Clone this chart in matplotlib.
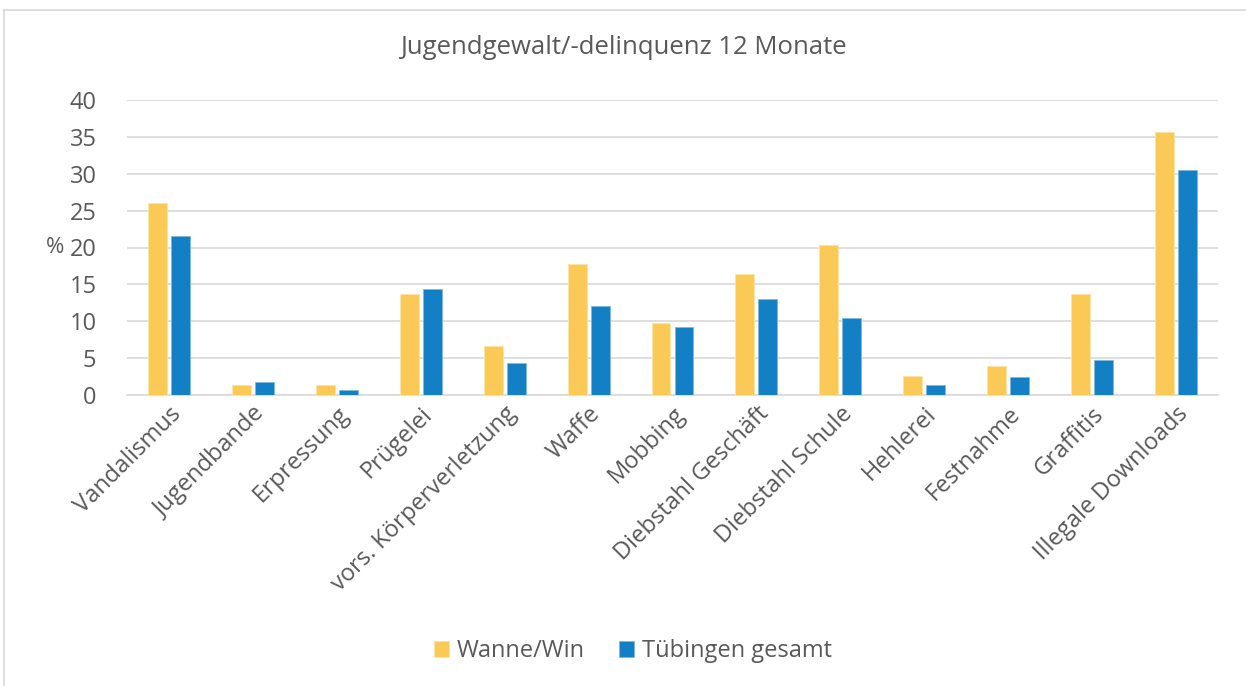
import matplotlib
matplotlib.use("Agg")
import matplotlib.pyplot as plt
import numpy as np
from matplotlib.lines import Line2D

categories = ["Vandalismus", "Jugendbande", "Erpressung", "Prügelei",
              "vors. Körperverletzung", "Waffe", "Mobbing", "Diebstahl Geschäft",
              "Diebstahl Schule", "Hehlerei", "Festnahme", "Graffitis",
              "Illegale Downloads"]
wanne = [26.0, 1.3, 1.3, 13.7, 6.7, 17.8, 9.7, 16.4, 20.4, 2.6, 4.0, 13.7, 35.6]
tuebingen = [21.5, 1.7, 0.7, 14.4, 4.4, 12.1, 9.2, 13.0, 10.5, 1.3, 2.5, 4.7, 30.5]
series_names = ["Wanne/Win", "Tübingen gesamt"]
yticks = [0, 5, 10, 15, 20, 25, 30, 35, 40]

plt.rcParams['font.family'] = ['Open Sans', 'DejaVu Sans']
txt = '#595959'

fig = plt.figure(figsize=(12.46, 6.86), dpi=100)
ax = fig.add_axes([127 / 1246, 1 - 395 / 686, (1218 - 127) / 1246, (395 - 100) / 686])

x = np.arange(len(categories))
w = 0.225
off = 0.137
ax.bar(x - off, wanne, w, color='#FBC956', edgecolor='#FDE3A8', linewidth=0.6,
       label=series_names[0], zorder=3)
ax.bar(x + off, tuebingen, w, color='#1380C6', edgecolor='#7EB8E0', linewidth=0.6,
       label=series_names[1], zorder=3)

ax.set_xlim(-0.5, len(categories) - 0.5)
ax.set_ylim(0, 40)
ax.set_yticks(yticks)
ax.set_yticklabels([str(v) for v in yticks])
ax.yaxis.grid(True, color='#D9D9D9', linewidth=1.2, zorder=0)
ax.set_axisbelow(True)
for s in ['top', 'right', 'left']:
    ax.spines[s].set_visible(False)
ax.spines['bottom'].set_color('#D9D9D9')
ax.spines['bottom'].set_linewidth(1.2)
ax.tick_params(axis='both', length=0, colors=txt, labelsize=17)
ax.tick_params(axis='y', pad=22)
ax.set_xticks(x)
ax.set_xticklabels(categories, rotation=45, ha='right', rotation_mode='anchor')
ax.tick_params(axis='x', pad=5)
ax.set_ylabel('%', rotation=0, color=txt, fontsize=16, va='center', ha='center')
ax.yaxis.set_label_coords((55 - 127) / 1091, 0.5)

fig.text(0.5, 1 - 48 / 686, 'Jugendgewalt/-delinquenz 12 Monate', ha='center', va='center',
         color=txt, fontsize=18.5)

leg = fig.legend(loc='center', bbox_to_anchor=(633 / 1246, 1 - 651 / 686), ncol=2,
                 frameon=False, fontsize=17, handlelength=0.65, handleheight=0.65,
                 columnspacing=1.45, handletextpad=0.33)
for t in leg.get_texts():
    t.set_color(txt)

fig.add_artist(Line2D([4 / 1246, 4 / 1246], [0, 1 - 10 / 686], transform=fig.transFigure,
                      color='#D9D9D9', linewidth=1.2))
fig.add_artist(Line2D([4 / 1246, 1], [1 - 10 / 686, 1 - 10 / 686], transform=fig.transFigure,
                      color='#D9D9D9', linewidth=1.2))

fig.savefig('out.png', dpi=100, facecolor='white')
